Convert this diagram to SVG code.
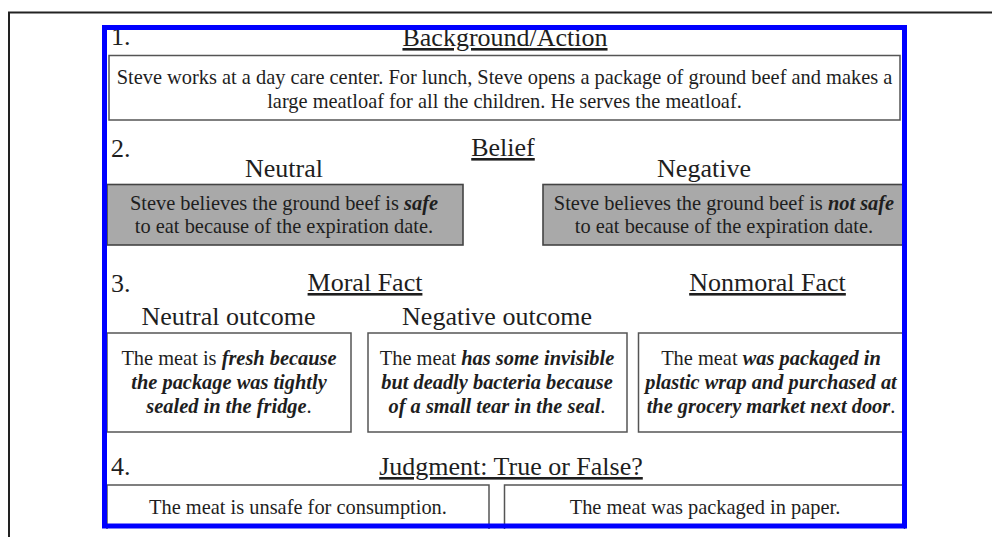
<svg xmlns="http://www.w3.org/2000/svg" width="992" height="537" viewBox="0 0 992 537">
<style>
text{font-family:"Liberation Serif","Times New Roman",serif;fill:#1e1e1e}
.h{font-size:26px}
.u{text-decoration:underline}
.b{font-size:20.4px;text-anchor:middle}
.c{text-anchor:middle}
.bi{font-weight:bold;font-style:italic}
.box{fill:#fff;stroke:#555;stroke-width:1.5}
.gbox{fill:#a9a9a9;stroke:#444;stroke-width:1.6}
</style>
<rect width="992" height="537" fill="#fff"/>
<g id="frame">
<line x1="8" y1="12.5" x2="992" y2="12.5" stroke="#222" stroke-width="2"/>
<line x1="9" y1="12" x2="9" y2="537" stroke="#222" stroke-width="2"/>
</g>
<rect x="104.5" y="27.5" width="800" height="498.5" fill="#fff"/>
<g id="section1">
<text class="h" x="111" y="45">1.</text>
<text class="h u c" x="505" y="46">Background/Action</text>
</g>
<g id="background">
<rect class="box" x="109" y="55.5" width="791" height="64.5"/>
<text class="b" x="504.5" y="84">Steve works at a day care center. For lunch, Steve opens a package of ground beef and makes a</text>
<text class="b" x="504.5" y="108">large meatloaf for all the children. He serves the meatloaf.</text>
</g>
<g id="section2">
<text class="h" x="111" y="157">2.</text>
<text class="h u c" x="503" y="156">Belief</text>
<text class="h c" x="284" y="177">Neutral</text>
<text class="h c" x="704" y="177">Negative</text>
</g>
<g id="belief-neutral">
<rect class="gbox" x="107" y="184.5" width="356" height="60.5"/>
<text class="b" x="284" y="210">Steve believes the ground beef is <tspan class="bi">safe</tspan></text>
<text class="b" x="284" y="233">to eat because of the expiration date.</text>
</g>
<g id="belief-negative">
<rect class="gbox" x="543" y="184.5" width="362" height="60.5"/>
<text class="b" x="724" y="210">Steve believes the ground beef is <tspan class="bi">not safe</tspan></text>
<text class="b" x="724" y="233">to eat because of the expiration date.</text>
</g>
<g id="section3">
<text class="h" x="111" y="292">3.</text>
<text class="h u c" x="365" y="291">Moral Fact</text>
<text class="h u c" x="767.5" y="291">Nonmoral Fact</text>
<text class="h c" x="228.5" y="325">Neutral outcome</text>
<text class="h c" x="497" y="325">Negative outcome</text>
</g>
<g id="fact-neutral">
<rect class="box" x="107" y="333" width="244" height="99"/>
<text class="b" x="229" y="365">The meat is <tspan class="bi">fresh because</tspan></text>
<text class="b bi" x="229" y="389">the package was tightly</text>
<text class="b" x="229" y="413"><tspan class="bi">sealed in the fridge</tspan>.</text>
</g>
<g id="fact-negative">
<rect class="box" x="368" y="333" width="259" height="99"/>
<text class="b" x="497" y="365">The meat <tspan class="bi">has some invisible</tspan></text>
<text class="b bi" x="497" y="389">but deadly bacteria because</text>
<text class="b" x="497" y="413"><tspan class="bi">of a small tear in the seal</tspan>.</text>
</g>
<g id="fact-nonmoral">
<rect class="box" x="638.5" y="333" width="266" height="99"/>
<text class="b" x="771" y="365">The meat <tspan class="bi">was packaged in</tspan></text>
<text class="b bi" x="771" y="389">plastic wrap and purchased at</text>
<text class="b" x="771" y="413"><tspan class="bi">the grocery market next door</tspan>.</text>
</g>
<g id="section4">
<text class="h" x="111" y="475">4.</text>
<text class="h u c" x="511" y="475">Judgment: True or False?</text>
</g>
<g id="judgment-1">
<rect class="box" x="107" y="485" width="382" height="45"/>
<text class="b" x="298" y="513.5">The meat is unsafe for consumption.</text>
</g>
<g id="judgment-2">
<rect class="box" x="504.5" y="485" width="400" height="45"/>
<text class="b" x="705" y="513.5">The meat was packaged in paper.</text>
</g>
<g id="connectors"></g>
<rect x="104.5" y="27.5" width="800" height="498.5" fill="none" stroke="#0000ff" stroke-width="5"/>
<rect x="0" y="529" width="992" height="8" fill="#fff"/>
<line x1="9" y1="528" x2="9" y2="537" stroke="#222" stroke-width="2"/>
</svg>
